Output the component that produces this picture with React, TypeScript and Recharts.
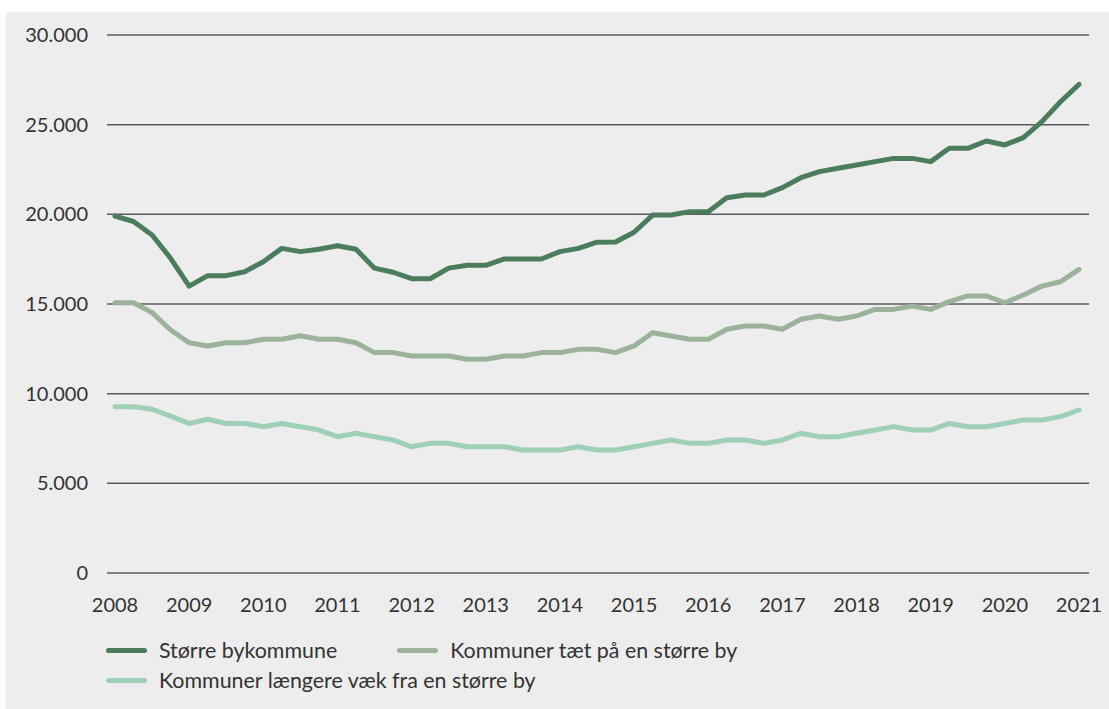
import React from "react";
import { LineChart, Line, XAxis, YAxis, CartesianGrid, Legend } from "recharts";

const kvartaler = [
  "2008K1", "2008K2", "2008K3", "2008K4",
  "2009K1", "2009K2", "2009K3", "2009K4",
  "2010K1", "2010K2", "2010K3", "2010K4",
  "2011K1", "2011K2", "2011K3", "2011K4",
  "2012K1", "2012K2", "2012K3", "2012K4",
  "2013K1", "2013K2", "2013K3", "2013K4",
  "2014K1", "2014K2", "2014K3", "2014K4",
  "2015K1", "2015K2", "2015K3", "2015K4",
  "2016K1", "2016K2", "2016K3", "2016K4",
  "2017K1", "2017K2", "2017K3", "2017K4",
  "2018K1", "2018K2", "2018K3", "2018K4",
  "2019K1", "2019K2", "2019K3", "2019K4",
  "2020K1", "2020K2", "2020K3", "2020K4",
  "2021K1",
];

const aarTicks = [
  "2008K1", "2009K1", "2010K1", "2011K1", "2012K1", "2013K1", "2014K1",
  "2015K1", "2016K1", "2017K1", "2018K1", "2019K1", "2020K1", "2021K1",
];

const yTicks = [0, 5000, 10000, 15000, 20000, 25000, 30000];

const stoerreBy = [
  19900, 19600, 18850, 17550, 16000, 16580, 16580, 16800,
  17360, 18100, 17920, 18050, 18250, 18050, 17000, 16770,
  16410, 16410, 17000, 17160, 17160, 17510, 17510, 17510,
  17920, 18100, 18450, 18460, 19000, 19960, 19960, 20150,
  20150, 20930, 21080, 21080, 21490, 22040, 22380, 22570,
  22750, 22940, 23120, 23120, 22940, 23680, 23680, 24090,
  23870, 24280, 25170, 26280, 27250,
];

const taetPaa = [
  15070, 15070, 14520, 13550, 12840, 12660, 12840, 12840,
  13030, 13030, 13230, 13030, 13030, 12840, 12290, 12290,
  12100, 12100, 12100, 11920, 11920, 12100, 12100, 12290,
  12290, 12470, 12470, 12290, 12660, 13400, 13220, 13030,
  13030, 13590, 13770, 13770, 13590, 14150, 14330, 14150,
  14330, 14700, 14700, 14890, 14700, 15130, 15450, 15450,
  15070, 15500, 16000, 16240, 16930,
];

const laengereVaek = [
  9270, 9270, 9130, 8750, 8340, 8570, 8340, 8340,
  8160, 8340, 8160, 7970, 7600, 7790, 7600, 7420,
  7040, 7230, 7230, 7040, 7040, 7040, 6860, 6860,
  6860, 7040, 6860, 6860, 7040, 7230, 7420, 7230,
  7230, 7420, 7420, 7230, 7420, 7790, 7600, 7600,
  7790, 7970, 8160, 7970, 7970, 8340, 8160, 8160,
  8340, 8530, 8530, 8720, 9090,
];

const serier = [
  { key: "stoerre", navn: "Større bykommune", farve: "#4b7d5c" },
  { key: "taet", navn: "Kommuner tæt på en større by", farve: "#9bb39a" },
  { key: "laengere", navn: "Kommuner længere væk fra en større by", farve: "#9dd0b6" },
];

const dati = kvartaler.map((k, i) => ({
  kvartal: k,
  stoerre: stoerreBy[i],
  taet: taetPaa[i],
  laengere: laengereVaek[i],
}));

const FONT = "Lato, 'Open Sans', sans-serif";
const TEKST = "#333333";

const formatTal = (v: number) => String(v).replace(/\B(?=(\d{3})+(?!\d))/g, ".");

function Forklaring() {
  return (
    <div style={{ display: "flex", flexWrap: "wrap", width: 760, fontFamily: FONT, fontSize: 21.4, color: TEKST }}>
      {serier.map((s) => (
        <div
          key={s.key}
          style={{ display: "flex", alignItems: "center", height: 30, marginRight: 60 }}
        >
          <span
            style={{
              display: "inline-block",
              width: 41,
              height: 5,
              borderRadius: 3,
              background: s.farve,
              marginRight: 12,
            }}
          />
          <span>{s.navn}</span>
        </div>
      ))}
    </div>
  );
}

export default function App() {
  return (
    <div
      style={{
        position: "absolute",
        left: 6,
        top: 12,
        width: 1103,
        height: 697,
        background: "#ededed",
      }}
    >
      <LineChart
        width={1103}
        height={697}
        data={dati}
        margin={{ top: 23, right: 20, left: 0, bottom: 106 }}
      >
        <CartesianGrid vertical={false} stroke="#5a5a5a" strokeWidth={1.5} />
        <XAxis
          dataKey="kvartal"
          ticks={aarTicks}
          interval={0}
          tickFormatter={(v: string) => v.slice(0, 4)}
          axisLine={false}
          tickLine={false}
          tickSize={0}
          tickMargin={25}
          padding={{ left: 8, right: 10 }}
          tick={{ fontFamily: FONT, fontSize: 20, fill: TEKST }}
        />
        <YAxis
          domain={[0, 30000]}
          ticks={yTicks}
          width={101}
          axisLine={false}
          tickLine={false}
          tickSize={0}
          tickMargin={19}
          tickFormatter={formatTal}
          tick={{ fontFamily: FONT, fontSize: 20, fill: TEKST }}
        />
        {serier.map((s) => (
          <Line
            key={s.key}
            type="linear"
            dataKey={s.key}
            name={s.navn}
            stroke={s.farve}
            strokeWidth={5}
            strokeLinejoin="round"
            strokeLinecap="round"
            dot={false}
            isAnimationActive={false}
          />
        ))}
        <Legend
          layout="horizontal"
          verticalAlign="middle"
          align="center"
          content={() => <Forklaring />}
          wrapperStyle={{ left: 100, top: 623, width: 760 }}
        />
      </LineChart>
    </div>
  );
}
